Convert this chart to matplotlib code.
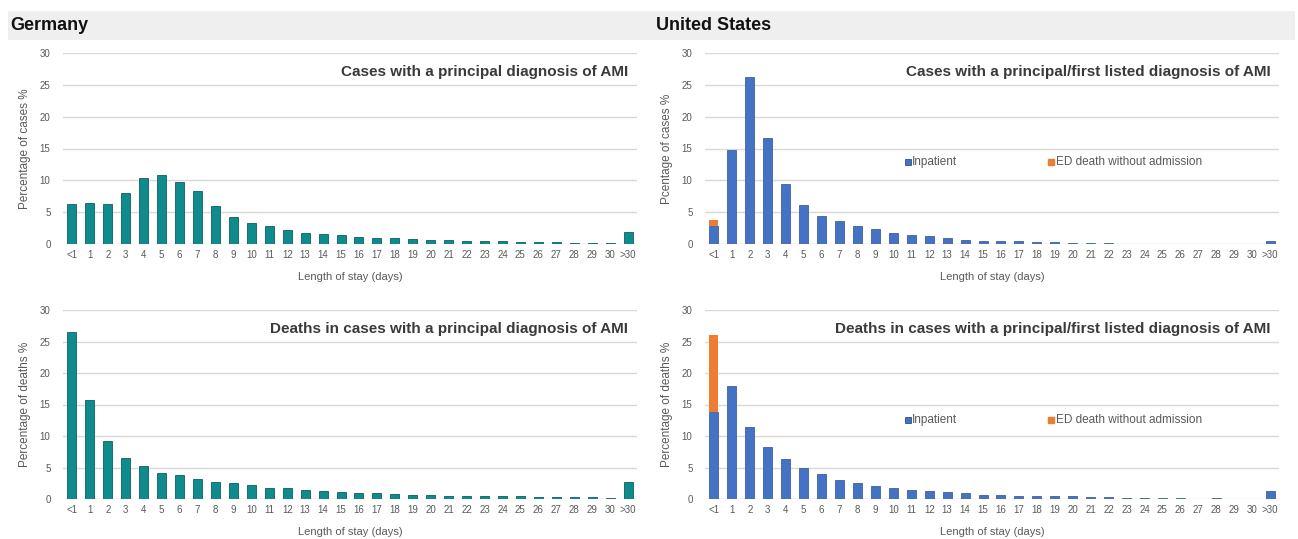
import numpy as np
import matplotlib
matplotlib.use('Agg')
import matplotlib.pyplot as plt
from matplotlib.patches import Rectangle

plt.rcParams['font.family'] = ['Liberation Sans', 'DejaVu Sans']

# length-of-stay categories
categories = ['<1'] + [str(i) for i in range(1, 31)] + ['>30']

# Germany, share of cases / deaths per length of stay (%)
de_cases = [6.3, 6.4, 6.3, 8.0, 10.3, 10.9, 9.7, 8.3, 6.0, 4.3, 3.3, 2.8, 2.2, 1.8,
            1.6, 1.4, 1.1, 1.0, 0.9, 0.8, 0.7, 0.7, 0.5, 0.4, 0.4, 0.3, 0.3, 0.3,
            0.2, 0.2, 0.2, 1.9]
de_deaths = [26.5, 15.7, 9.2, 6.5, 5.3, 4.2, 3.8, 3.1, 2.7, 2.5, 2.2, 1.7, 1.7, 1.5,
             1.2, 1.1, 1.0, 0.9, 0.8, 0.7, 0.7, 0.5, 0.5, 0.4, 0.4, 0.4, 0.3, 0.3,
             0.3, 0.3, 0.1, 2.7]

# United States, inpatient part and ED deaths without admission (%)
us_cases_inpatient = [2.9, 14.7, 26.2, 16.7, 9.4, 6.1, 4.4, 3.6, 2.8, 2.3, 1.8, 1.4,
                      1.2, 0.9, 0.7, 0.5, 0.4, 0.4, 0.3, 0.3, 0.2, 0.2, 0.2, 0.0,
                      0.0, 0.0, 0.0, 0.0, 0.0, 0.0, 0.0, 0.5]
us_cases_ed = [0.8] + [0.0] * 31
us_deaths_inpatient = [13.8, 17.9, 11.5, 8.3, 6.3, 4.9, 3.9, 3.0, 2.6, 2.1, 1.8, 1.5,
                       1.2, 1.1, 0.9, 0.7, 0.6, 0.5, 0.4, 0.4, 0.4, 0.3, 0.3, 0.1,
                       0.1, 0.1, 0.1, 0.0, 0.1, 0.0, 0.0, 1.3]
us_deaths_ed = [12.3] + [0.0] * 31

TEAL = '#0f8b8d'
TEAL_EDGE = '#0a5f60'
BLUE = '#4472c4'
BLUE_EDGE = '#2e4f8c'
ORANGE = '#ed7d31'
GRID = '#d9d9d9'
TICK = '#595959'
TITLE = '#3a3a3a'

W, H = 1298, 539
fig = plt.figure(figsize=(W / 100, H / 100), dpi=100)


def px_rect(x0, x1, ytop, ybot):
    return [x0 / W, 1 - ybot / H, (x1 - x0) / W, (ybot - ytop) / H]


# grey header band
fig.patches.append(Rectangle((8 / W, 1 - 40 / H), 1287 / W, 29 / H,
                             transform=fig.transFigure, facecolor='#efefef',
                             edgecolor='none', zorder=0))
fig.text(10 / W, 1 - 26 / H, 'Germany', fontsize=13, fontweight='bold',
         va='center', ha='left', color='#111111')
fig.text(656 / W, 1 - 26 / H, 'United States', fontsize=13, fontweight='bold',
         va='center', ha='left', color='#111111')


def style_axes(ax, title, ylabel):
    x = np.arange(len(categories))
    ax.set_xlim(-0.5, len(categories) - 0.5)
    ax.set_ylim(0, 30)
    ax.set_yticks([0, 5, 10, 15, 20, 25, 30])
    ax.set_xticks(x)
    ax.set_xticklabels(categories)
    ax.tick_params(axis='both', length=0, labelsize=7, labelcolor=TICK)
    ax.tick_params(axis='y', pad=9)
    ax.tick_params(axis='x', pad=4)
    ax.yaxis.grid(True, color=GRID, linewidth=1)
    ax.set_axisbelow(True)
    for s in ax.spines.values():
        s.set_visible(False)
    ax.set_xlabel('Length of stay (days)', fontsize=8, color=TICK, labelpad=9)
    ax.set_ylabel(ylabel, fontsize=8.5, color=TICK, labelpad=6)
    ax.text(0.985, 0.9, title, transform=ax.transAxes, ha='right', va='center',
            fontsize=11, fontweight='bold', color=TITLE)


def us_legend(ax, y):
    ax.plot([10.8], [y], 's', color=BLUE, markersize=4,
            markeredgecolor=BLUE_EDGE, markeredgewidth=0.6, clip_on=False)
    ax.text(11.05, y, 'Inpatient', fontsize=8.5, color=TICK, va='center')
    ax.plot([18.8], [y], 's', color=ORANGE, markersize=4, clip_on=False)
    ax.text(19.05, y, 'ED death without admission', fontsize=8.5, color=TICK,
            va='center')


x = np.arange(len(categories))

ax1 = fig.add_axes(px_rect(63, 637, 53, 244))
ax1.bar(x, de_cases, width=0.5, color=TEAL, edgecolor=TEAL_EDGE, linewidth=0.6)
style_axes(ax1, 'Cases with a principal diagnosis of AMI', 'Percentage of cases %')

ax2 = fig.add_axes(px_rect(705, 1279, 53, 244))
ax2.bar(x, us_cases_inpatient, width=0.5, color=BLUE, edgecolor=BLUE_EDGE,
        linewidth=0.5)
ax2.bar(x, us_cases_ed, width=0.5, bottom=us_cases_inpatient, color=ORANGE,
        linewidth=0)
style_axes(ax2, 'Cases with a principal/first listed diagnosis of AMI',
           'Pcentage of cases %')
us_legend(ax2, 12.9)

ax3 = fig.add_axes(px_rect(63, 637, 310, 499))
ax3.bar(x, de_deaths, width=0.5, color=TEAL, edgecolor=TEAL_EDGE, linewidth=0.6)
style_axes(ax3, 'Deaths in cases with a principal diagnosis of AMI',
           'Percentage of deaths %')

ax4 = fig.add_axes(px_rect(705, 1279, 310, 499))
ax4.bar(x, us_deaths_inpatient, width=0.5, color=BLUE, edgecolor=BLUE_EDGE,
        linewidth=0.5)
ax4.bar(x, us_deaths_ed, width=0.5, bottom=us_deaths_inpatient, color=ORANGE,
        linewidth=0)
style_axes(ax4, 'Deaths in cases with a principal/first listed diagnosis of AMI',
           'Percentage of deaths %')
us_legend(ax4, 12.5)

fig.savefig('out.png', dpi=100, facecolor='white')
